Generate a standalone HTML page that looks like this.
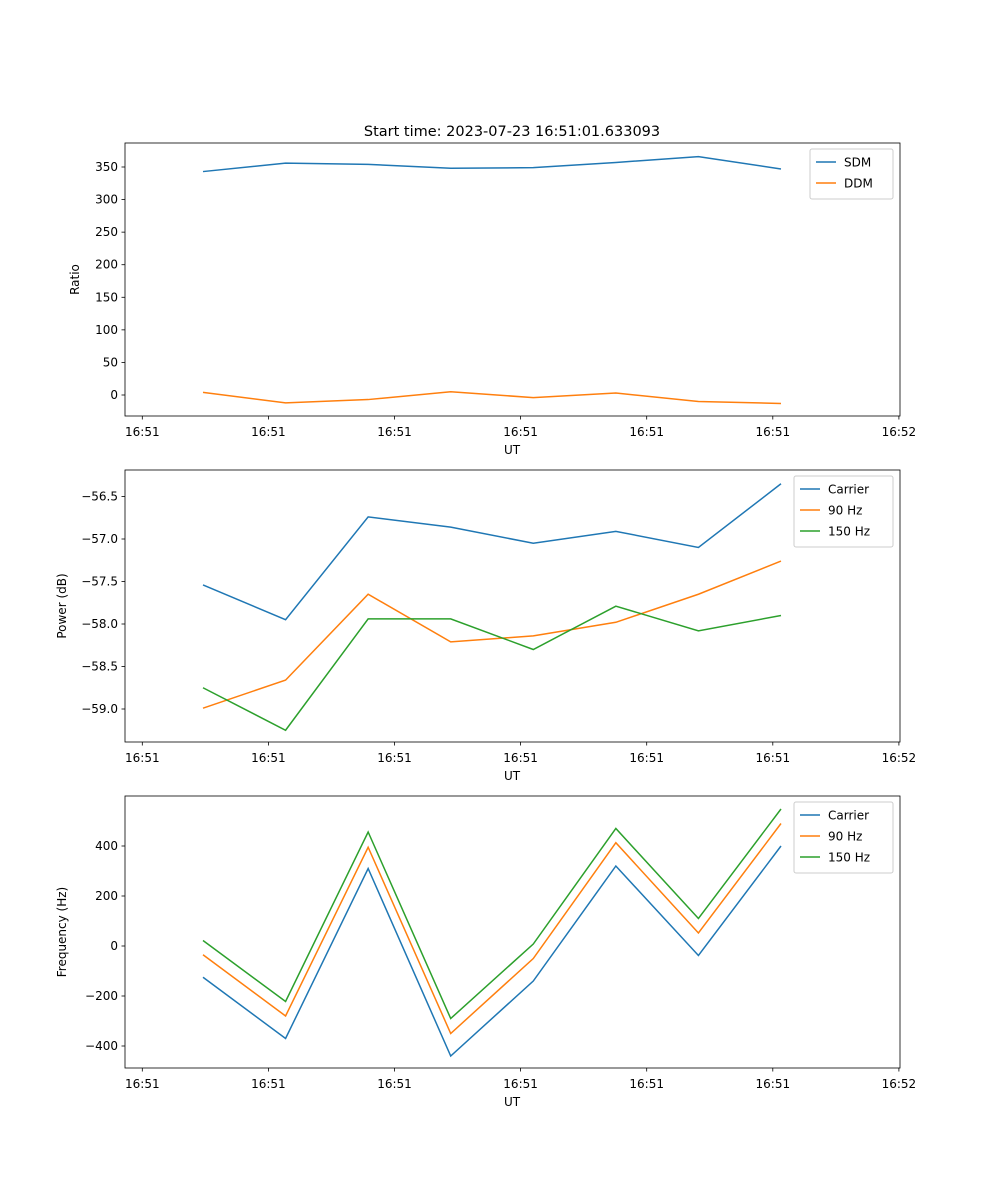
<!DOCTYPE html>
<html><head><meta charset="utf-8"><style>
body{margin:0;background:#fff}
svg{display:block;font-family:"DejaVu Sans","Liberation Sans",sans-serif}
</style></head><body>
<svg id="fig" width="1000" height="1200" xmlns="http://www.w3.org/2000/svg"></svg>
<script>
const xIndex=[0,1,2,3,4,5,6,7];
const xTickLabels=["16:51","16:51","16:51","16:51","16:51","16:51","16:52"];
const sdm=[343,356,354,348,349,357,366,347];
const ddm=[4,-12,-7,5,-4,3,-10,-13];
const pCarrier=[-57.54,-57.95,-56.74,-56.86,-57.05,-56.91,-57.10,-56.35];
const p90=[-58.99,-58.66,-57.65,-58.21,-58.14,-57.98,-57.65,-57.26];
const p150=[-58.75,-59.25,-57.94,-57.94,-58.30,-57.79,-58.08,-57.90];
const fCarrier=[-125,-370,310,-440,-140,320,-38,400];
const f90=[-35,-280,395,-350,-50,413,52,490];
const f150=[22,-222,456,-290,8,470,110,548];
const ticks1=[0,50,100,150,200,250,300,350];
const ticks2=[-59.0,-58.5,-58.0,-57.5,-57.0,-56.5];
const ticks3=[-400,-200,0,200,400];

const NS="http://www.w3.org/2000/svg";
const svg=document.getElementById('fig');
function el(t,a,p){const e=document.createElementNS(NS,t);for(const k in a)e.setAttribute(k,a[k]);(p||svg).appendChild(e);return e;}
const X0=125,X1=900;
const xs=i=>203+i*82.57;
const xt=i=>142.3+i*126.1;
const C=["#1f77b4","#ff7f0e","#2ca02c"];

function panel(name,top,bot,yv0,yp0,yv1,yp1,ticks,fmt,ylabel,series,labels,legW){
  const g=el('g',{});
  
  
  const ys=v=>yp0+(v-yv0)*(yp1-yp0)/(yv1-yv0);
  series.forEach((s,k)=>{
    const pl=el('polyline',{points:s.map((v,i)=>xs(xIndex[i])+','+ys(v)).join(' '),fill:'none',stroke:C[k],'stroke-width':1.5},g);
    
    
  });
  el('rect',{x:X0,y:top,width:X1-X0,height:bot-top,fill:'none',stroke:'#000','stroke-width':0.8},g);
  ticks.forEach(v=>{const y=ys(v);
    el('line',{x1:X0-3.5,x2:X0,y1:y,y2:y,stroke:'#000','stroke-width':0.8},g);
    const t=el('text',{x:X0-7,y:y+4,'font-size':12,'text-anchor':'end'},g);t.textContent=fmt(v);
    });
  xTickLabels.forEach((l,i)=>{const x=xt(i);
    el('line',{x1:x,x2:x,y1:bot,y2:bot+3.5,stroke:'#000','stroke-width':0.8},g);
    const t=el('text',{x:x,y:bot+20,'font-size':12,'text-anchor':'middle'},g);t.textContent=l;
    });
  const xl=el('text',{x:512,y:bot+38,'font-size':12,'text-anchor':'middle'},g);xl.textContent='UT';
  
  const cy=(top+bot)/2;
  const yl=el('text',{x:0,y:0,'font-size':12,'text-anchor':'middle',transform:`translate(${X0-(ylabel=='Ratio'?46:59)},${cy}) rotate(-90)`},g);yl.textContent=ylabel;
  
  const lx=X1-7-legW,ly=top+6;
  const lg=el('g',{},g);
  
  el('rect',{x:lx,y:ly,width:legW,height:8+labels.length*21,fill:'#fff',stroke:'#ccc',rx:2},lg);
  labels.forEach((l,k)=>{const yy=ly+13+k*21;
    el('line',{x1:lx+6,x2:lx+26,y1:yy,y2:yy,stroke:C[k],'stroke-width':1.5},lg);
    const t=el('text',{x:lx+34,y:yy+4.5,'font-size':12},lg);t.textContent=l;
    });
}
const tt=el('text',{x:512,y:136,'font-size':14.5,'text-anchor':'middle'});tt.textContent='Start time: 2023-07-23 16:51:01.633093';

panel('ratio-panel',143,416,0,395,350,167,ticks1,v=>String(v),'Ratio',[sdm,ddm],['SDM','DDM'],83);
panel('power-panel',470,742,-59.0,709,-56.5,496.5,ticks2,v=>'\u2212'+Math.abs(v).toFixed(1),'Power (dB)',[pCarrier,p90,p150],['Carrier','90 Hz','150 Hz'],99);
panel('frequency-panel',796,1068,-400,1046,400,846,ticks3,v=>(v<0?'\u2212':'')+Math.abs(v),'Frequency (Hz)',[fCarrier,f90,f150],['Carrier','90 Hz','150 Hz'],99);
</script>
</body></html>
